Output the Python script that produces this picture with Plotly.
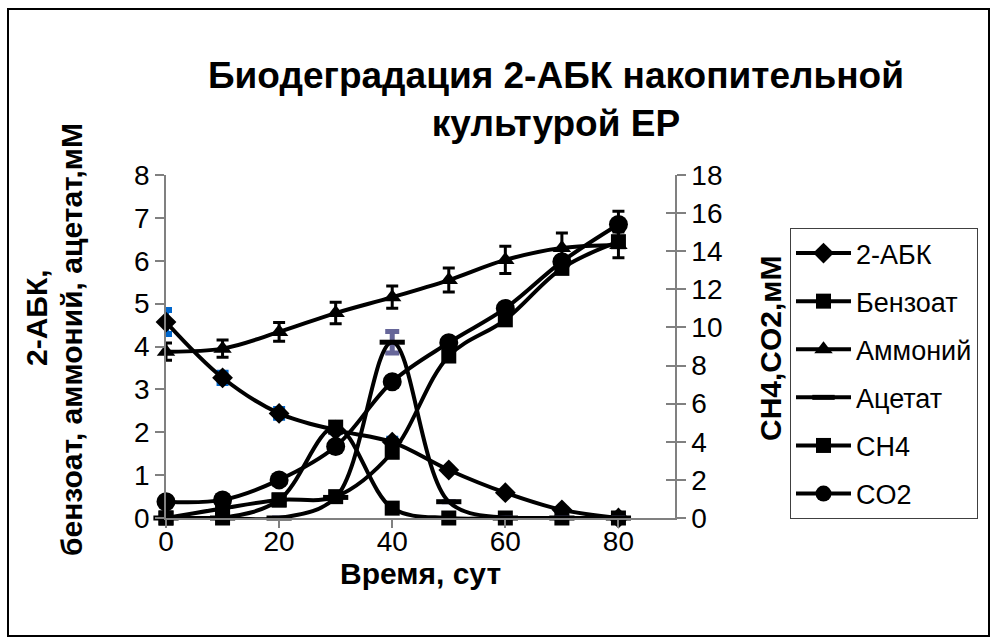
import plotly.graph_objects as go

days = [0, 10, 20, 30, 40, 50, 60, 70, 80]

abk = [4.57, 3.27, 2.44, 2.05, 1.77, 1.12, 0.59, 0.19, 0.0]
abk_err = [0.28, 0.12, 0.10, 0.05, 0.08, 0.0, 0.0, 0.0, 0.0]

benzoate = [0.0, 0.0, 0.42, 2.12, 0.23, 0.0, 0.0, 0.0, 0.0]

ammonium = [3.88, 3.95, 4.34, 4.78, 5.15, 5.55, 6.02, 6.30, 6.37]
ammonium_err = [0.20, 0.20, 0.22, 0.25, 0.26, 0.28, 0.32, 0.35, 0.30]

acetate = [0.0, 0.0, 0.0, 0.48, 4.10, 0.38, 0.0, 0.0, 0.0]
acetate_err = [0, 0, 0, 0, 0.25, 0, 0, 0, 0]

ch4 = [0.0, 0.5, 0.95, 1.12, 3.45, 8.5, 10.4, 13.1, 14.5]
co2 = [0.85, 0.95, 2.0, 3.75, 7.15, 9.2, 11.0, 13.45, 15.4]
co2_err = [0, 0, 0, 0, 0, 0, 0, 0, 0.7]

x_ticks = [0, 20, 40, 60, 80]
left_ticks = [0, 1, 2, 3, 4, 5, 6, 7, 8]
right_ticks = [0, 2, 4, 6, 8, 10, 12, 14, 16, 18]

FONT = "Liberation Sans, Arial, sans-serif"
LW = 4

fig = go.Figure()

def add(name, y, symbol, size, axis="y", err=None, err_color="black", err_th=3, err_w=6):
    kw = {}
    if err is not None:
        kw["error_y"] = dict(type="data", array=err, visible=True, color=err_color,
                             thickness=err_th, width=err_w)
    mk = dict(symbol=symbol, size=size, color="black")
    if symbol == "line-ew":
        mk["line"] = dict(color="black", width=5)
    fig.add_trace(go.Scatter(
        x=days, y=y, name=name, yaxis=axis, mode="lines+markers",
        line=dict(color="black", width=LW, shape="spline", smoothing=1.0),
        marker=mk, cliponaxis=False, legendgroup=name, **kw))

add("2-АБК", abk, "diamond", 16, err=abk_err, err_color="#0066CC", err_th=6, err_w=6)
add("Бензоат", benzoate, "square", 15)
add("Аммоний", ammonium, "triangle-up", 16, err=ammonium_err, err_th=3, err_w=6)
add("Ацетат", acetate, "line-ew", 18, err=acetate_err, err_color="#666699", err_th=5, err_w=7)
add("CH4", ch4, "square", 15, axis="y2")
add("CO2", co2, "circle", 19, axis="y2", err=co2_err, err_th=3, err_w=6)

# helper trace so the inner half of the right-axis cross ticks is drawn
fig.add_trace(go.Scatter(x=[days[0]], y=[0], yaxis="y3", mode="markers",
                         marker=dict(opacity=0), showlegend=False, hoverinfo="skip"))

axis_grey = "#808080"
tickfont = dict(family=FONT, size=28, color="black")

fig.update_layout(
    width=997, height=644,
    margin=dict(l=166, r=322, t=175, b=126),
    paper_bgcolor="white", plot_bgcolor="white",
    font=dict(family=FONT, color="black"),
    showlegend=True,
    xaxis=dict(range=[0, 90], tickvals=x_ticks, ticks="outside", ticklen=8,
               tickcolor=axis_grey, tickwidth=1.5, showline=True, linecolor=axis_grey,
               linewidth=1.5, showgrid=False, zeroline=False, tickfont=tickfont,
               ticklabelstandoff=-10),
    yaxis=dict(range=[0, 8], tickvals=left_ticks, ticks="outside", ticklen=9,
               tickcolor=axis_grey, tickwidth=1.5, showline=True, linecolor=axis_grey,
               linewidth=1.5, showgrid=False, zeroline=False, tickfont=tickfont),
    yaxis2=dict(range=[0, 18], tickvals=right_ticks, overlaying="y", side="right",
                ticks="outside", ticklen=9, tickcolor=axis_grey, tickwidth=1.5,
                showline=True, linecolor=axis_grey, linewidth=1.5, showgrid=False,
                zeroline=False, tickfont=tickfont),
    yaxis3=dict(range=[0, 18], tickvals=right_ticks, overlaying="y", side="right",
                ticks="inside", ticklen=9, tickcolor=axis_grey, tickwidth=1.5,
                showline=False, showgrid=False, zeroline=False, showticklabels=False),
    legend=dict(x=(790 - 166) / 509, y=(518 - 228) / 343, xanchor="left", yanchor="top",
                bordercolor="#404040", borderwidth=1, bgcolor="white",
                font=dict(family=FONT, size=27, color="black"),
                traceorder="grouped", tracegroupgap=10, itemwidth=55),
)

def px_x(p):
    return (p - 166) / 509

def px_y(p):
    return (518 - p) / 343

bold = dict(family=FONT, size=37, color="black", weight="bold")
fig.add_annotation(text="Биодеградация 2-АБК накопительной<br>культурой ЕР",
                   x=px_x(556), y=px_y(100), xref="paper", yref="paper",
                   showarrow=False, font=bold, xanchor="center", yanchor="middle")
tfont = dict(family=FONT, size=30, color="black", weight="bold")
fig.add_annotation(text="Время, сут", x=0.5, y=px_y(573), xref="paper", yref="paper",
                   showarrow=False, font=tfont, xanchor="center", yanchor="middle")
fig.add_annotation(text="2-АБК,", x=px_x(36), y=px_y(318),
                   xref="paper", yref="paper", showarrow=False, font=tfont, textangle=-90,
                   xanchor="center", yanchor="middle")
fig.add_annotation(text="бензоат, аммоний, ацетат,мМ", x=px_x(71), y=px_y(340),
                   xref="paper", yref="paper", showarrow=False, font=tfont, textangle=-90,
                   xanchor="center", yanchor="middle")
fig.add_annotation(text="CH4,CO2,мМ", x=px_x(770), y=px_y(348), xref="paper", yref="paper",
                   showarrow=False, font=tfont, textangle=-90,
                   xanchor="center", yanchor="middle")

fig.add_shape(type="rect", xref="paper", yref="paper",
              x0=px_x(8), x1=px_x(989), y0=px_y(636), y1=px_y(9),
              line=dict(color="black", width=2), fillcolor="rgba(0,0,0,0)", layer="below")

fig.write_html("out.html", config={"displayModeBar": False},
               post_script="document.body.style.margin='0';document.body.style.overflow='hidden';")
